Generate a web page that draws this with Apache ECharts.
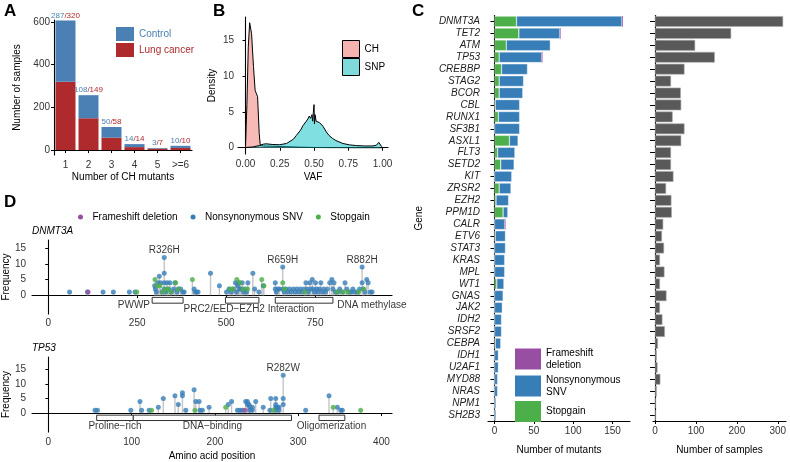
<!DOCTYPE html>
<html><head><meta charset="utf-8">
<script src="https://cdn.jsdelivr.net/npm/echarts@6/dist/echarts.min.js"></script>
<style>html,body{margin:0;padding:0;background:#fff}#c{width:790px;height:462px}</style>
</head><body><div id="c"></div>
<script>
// ---------------- Panel A data ----------------
const chMutantCats = ['1','2','3','4','5','>=6'];
const controlSamples = [287,108,50,14,3,10];
const lungSamples = [320,149,58,14,7,10];
const aYTicks = [0,200,400,600];

// ---------------- Panel B data ----------------
const vafCH = [[0,0.3],[0.01,6],[0.02,14],[0.03,17.4],[0.044,15.9],[0.058,11.3],[0.07,8.0],[0.08,7.5],[0.088,7.1],[0.095,4],[0.1,2],[0.107,0.4],[0.13,0.25],[0.2,0.2],[0.3,0.15],[0.4,0.08],[0.5,0.04],[0.6,0.02],[0.8,0.01],[1,0.005]];
const vafSNP = [[0,0.05],[0.05,0.1],[0.1,0.3],[0.13,0.5],[0.15,0.55],[0.2,0.45],[0.25,0.42],[0.3,0.6],[0.35,1.2],[0.37,1.7],[0.4,2.4],[0.42,3.1],[0.44,3.6],[0.455,4.0],[0.465,4.4],[0.475,4.1],[0.485,4.6],[0.49,3.7],[0.495,4.9],[0.5,6.0],[0.503,3.3],[0.508,4.6],[0.515,3.7],[0.525,3.9],[0.54,3.5],[0.55,3.3],[0.565,3.0],[0.59,2.2],[0.61,1.7],[0.635,1.3],[0.66,1.0],[0.71,0.6],[0.76,0.4],[0.81,0.3],[0.87,0.25],[0.93,0.25],[0.955,0.35],[0.973,0.75],[0.985,0.5],[0.992,0.2],[1.0,0.05]];
const bXTicks = [0,0.25,0.5,0.75,1];
const bYTicks = [0,5,10,15];

// ---------------- Panel C data ----------------
const genes = ['DNMT3A','TET2','ATM','TP53','CREBBP','STAG2','BCOR','CBL','RUNX1','SF3B1','ASXL1','FLT3','SETD2','KIT','ZRSR2','EZH2','PPM1D','CALR','ETV6','STAT3','KRAS','MPL','WT1','GNAS','JAK2','IDH2','SRSF2','CEBPA','IDH1','U2AF1','MYD88','NRAS','NPM1','SH2B3'];
const stopgainMut   = [28,31,15,6,9,6,6,1,5,0,19,4,8,0,6,2,11,0,1,0,0,0,3,0,0,0,0,1,0,0,0,0,0,0];
const nonsynMut     = [134,52,56,54,33,31,30,31,27,32,11,22,17,22,15,16,6,13,13,14,13,13,9,11,10,9,9,7,5,5,4,4,2,2];
const frameshiftMut = [1,1,0,1,0,0,0,0,0,0,0,0,0,0,0,0,0,1,0,0,0,0,0,0,0,0,0,0,0,0,0,0,0,0];
const samplesPerGene = [313,186,98,146,72,39,63,64,43,72,64,39,39,45,27,40,41,20,17,22,12,23,12,28,12,18,24,7,4,6,13,4,1,1];
const mutTicks = [0,50,100,150];
const sampleTicks = [0,100,200,300];

// ---------------- Panel D data ----------------
const dnmt3aSNV = [[60,1],[110,1],[154,1],[183,1],[228,1],[244,1],
 [299,3],[301,2],[304,1],[308,4],[312,6],[316,4],[320,1],[326,12],[326,7],[326,4],[326,2],[330,1],[334,4],[338,2],[342,4],[346,1],[352,2],[356,4],[362,1],[366,2],[372,2],[378,1],[382,1],
 [410,2],[413,1],[417,1],[421,1],[456,7],[481,3],
 [501,1],[508,2],[514,1],[520,2],[526,4],[529,1],[532,3],[535,4],[538,2],[542,2],[545,4],[549,1],[553,2],[557,1],[561,4],[575,7],[580,2],[592,1],[604,3],
 [638,4],[638,2],[641,1],[645,2],[650,2],[659,9],[659,2],[663,1],[668,2],[673,1],[678,2],[683,1],[689,2],[694,1],[699,2],[704,1],[709,2],[714,1],[719,2],[724,4],[728,2],[731,1],[735,4],[738,2],[742,5],[745,2],[748,1],[751,4],[755,2],[758,1],[762,2],[766,4],[770,1],[774,2],[779,1],[784,2],[791,4],[797,5],[800,2],[803,4],[807,1],[813,1],[819,2],[826,1],[834,4],[839,2],[846,1],[851,1],[856,2],[862,1],[868,1],[875,2],[882,9],[882,4],[885,2],[890,1],[895,5],[899,4],[905,1],[910,1]];
const dnmt3aStop = [[249,1],[300,5],[306,3],[314,3],[322,1],[331,2],[336,2],[345,1],[358,4],[366,2],[405,5],[511,2],[518,2],[530,5],[539,4],[547,2],[560,2],[600,5],[606,3],[659,4],[664,2],[721,1],[812,1],[828,1],[842,1],[872,1],[886,2]];
const dnmt3aFS = [[112,1]];
const dnmt3aHot = [['R326H',326,12],['R659H',659,9],['R882H',882,9]];
const dnmt3aDomains = [['PWWP',292,379],['PRC2/EED\u2212EZH2 Interaction',498,592],['DNA methylase',638,800]];

const tp53SNV = [[56,1],[59,1],[99,1],[110,4],[112,1],[121,1],[132,2],[138,5],[152,6],[156,3],[161,7],[161,6],[165,1],[175,8],[177,4],[181,4],[182,1],[185,1],[193,2],[216,3],[220,4],[227,1],[230,1],[233,1],[237,4],[239,4],[239,3],[241,3],[242,2],[242,1],[245,2],[245,1],[249,4],[258,2],[266,1],[267,5],[273,5],[273,3],[273,2],[273,1],[275,2],[277,2],[277,1],[282,13],[282,5],[282,3],[309,1],[337,6],[347,2],[351,1],[353,1]];
const tp53Stop = [[124,1],[176,1],[213,2],[270,1],[342,2],[375,1]];
const tp53FS = [[236,1]];
const tp53Hot = [['R282W',282,13]];
const tp53Domains = [['Proline\u2212rich',58,102],['DNA\u2212binding',102,292],['Oligomerization',325,356]];
const dnmt3aXTicks = [0,250,500,750];
const tp53XTicks = [0,100,200,300,400];
const freqTicks = [0,5,10,15];

// ---------------- styles ----------------
const FONT = 'Liberation Sans, Arial, Helvetica, sans-serif';
const cBlueA = '#4A80B4', cRedA = '#AE2A2D';
const cFS = '#984EA3', cSNV = '#377EB8', cStop = '#4DAF4A';
const axLine = {show:true, lineStyle:{color:'#000', width:1.1}};
const tick = (len, vals) => ({show:true, length:len, lineStyle:{color:'#000', width:1}, customValues: vals});
const lbl = (vals, margin, fmt) => ({show:true, color:'#333', fontSize:10, margin:margin, customValues: vals, formatter: fmt});
const nameStyle = {color:'#000', fontSize:10};
function gridBox(l,t,w,h){return {left:l, top:t, width:w, height:h, containLabel:false, outerBoundsMode:'none'};}

function stems(...lists){
  const m = {};
  lists.forEach(L => L.forEach(([p,f]) => { m[p] = Math.max(m[p]||0, f); }));
  return Object.keys(m).map(Number).sort((a,b)=>a-b).map(p=>[p,m[p]]);
}
const boxTop = -0.7, boxBot = -2.55;

function lolliSeries(ix, snv, stop, fs, hot, domains, labelAnchors){
  return [
    {type:'bar', xAxisIndex:ix, yAxisIndex:ix, data: stems(snv, stop, fs), barWidth:1.4, itemStyle:{color:'#C4C4C4'}, z:1, silent:true},
    {type:'custom', xAxisIndex:ix, yAxisIndex:ix, z:2, silent:true,
      data: domains.map(d => [d[1], d[2], boxTop, boxBot]),
      encode:{x:[0,1], y:[2,3]},
      renderItem:(params, api) => {
        const p1 = api.coord([api.value(0), api.value(2)]);
        const p2 = api.coord([api.value(1), api.value(3)]);
        return {type:'rect', shape:{x:p1[0], y:p1[1], width:p2[0]-p1[0], height:p2[1]-p1[1]}, style:{fill:'#fff', stroke:'#333', lineWidth:1}};
      }},
    {type:'scatter', name:'Nonsynonymous SNV', xAxisIndex:ix, yAxisIndex:ix, data:snv, symbolSize:5, itemStyle:{color:cSNV}, z:3},
    {type:'scatter', name:'Stopgain', xAxisIndex:ix, yAxisIndex:ix, data:stop, symbolSize:5, itemStyle:{color:cStop}, z:4},
    {type:'scatter', name:'Frameshift deletion', xAxisIndex:ix, yAxisIndex:ix, data:fs, symbolSize:5, itemStyle:{color:cFS}, z:5},
    {type:'scatter', xAxisIndex:ix, yAxisIndex:ix, symbolSize:0, silent:true, z:6,
      data: hot.map(h => ({name:h[0], value:[h[1], h[2]]})),
      label:{show:true, position:'top', distance:2, formatter:'{b}', color:'#000', fontSize:10}},
    {type:'scatter', xAxisIndex:ix, yAxisIndex:ix, symbolSize:0, silent:true, z:6,
      data: domains.map((d,i) => ({name:d[0], value:[labelAnchors[i][0], labelAnchors[i][1]], label:{align:labelAnchors[i][2]}})),
      label:{show:true, position:'inside', formatter:'{b}', color:'#000', fontSize:10, verticalAlign:'middle'}}
  ];
}

const chart = echarts.init(document.getElementById('c'), null, {renderer:'canvas'});
const option = {
  animation:false,
  backgroundColor:'#fff',
  textStyle:{fontFamily:FONT},
  grid:[gridBox(54,20,138,135), gridBox(238,17,150,137), gridBox(488,15.5,142,405.5), gridBox(653,15.5,133,405.5), gridBox(32,240,360,74), gridBox(32,357,360,75)],
  xAxis:[
    {gridIndex:0, type:'category', data:chMutantCats, boundaryGap:true, axisLine:axLine,
      axisTick:{show:true, length:3, alignWithLabel:true, lineStyle:{color:'#000'}},
      axisLabel:{show:true, interval:0, color:'#333', fontSize:10, margin:5},
      name:'Number of CH mutants', nameLocation:'middle', nameGap:17, nameTextStyle:nameStyle},
    {gridIndex:1, type:'value', min:-0.055, max:1.04, axisLine:axLine, axisTick:tick(3,bXTicks), axisLabel:lbl(bXTicks,5, v=>v.toFixed(2)), splitLine:{show:false},
      name:'VAF', nameLocation:'middle', nameGap:18, nameTextStyle:nameStyle},
    {gridIndex:2, type:'value', min:-8.2, max:172.2, axisLine:axLine, axisTick:tick(3,mutTicks), axisLabel:lbl(mutTicks,5), splitLine:{show:false},
      name:'Number of mutants', nameLocation:'middle', nameGap:24, nameTextStyle:nameStyle},
    {gridIndex:3, type:'value', min:-5, max:320, axisLine:axLine, axisTick:tick(3,sampleTicks), axisLabel:lbl(sampleTicks,5), splitLine:{show:false},
      name:'Number of samples', nameLocation:'middle', nameGap:24, nameTextStyle:nameStyle},
    {gridIndex:4, type:'value', min:-45.6, max:966, axisLine:axLine, axisTick:tick(3,dnmt3aXTicks), axisLabel:lbl(dnmt3aXTicks,4), splitLine:{show:false}},
    {gridIndex:5, type:'value', min:-19.65, max:412.65, axisLine:axLine, axisTick:tick(3,tp53XTicks), axisLabel:lbl(tp53XTicks,5), splitLine:{show:false},
      name:'Amino acid position', nameLocation:'middle', nameGap:19, nameTextStyle:nameStyle}
  ],
  yAxis:[
    {gridIndex:0, type:'value', min:-23, max:609, axisLine:axLine, axisTick:tick(3,aYTicks), axisLabel:lbl(aYTicks,4), splitLine:{show:false},
      name:'Number of samples', nameLocation:'middle', nameGap:32, nameTextStyle:nameStyle},
    {gridIndex:1, type:'value', min:-0.87, max:18.2, axisLine:axLine, axisTick:tick(3,bYTicks), axisLabel:lbl(bYTicks,4), splitLine:{show:false},
      name:'Density', nameLocation:'middle', nameGap:21, nameTextStyle:nameStyle},
    {gridIndex:2, type:'category', data:genes, inverse:true, axisLine:axLine,
      axisTick:{show:true, length:4, alignWithLabel:true, interval:0, lineStyle:{color:'#000'}},
      axisLabel:{show:true, interval:0, fontStyle:'italic', fontSize:10, color:'#222', margin:8},
      name:'Gene', nameLocation:'middle', nameGap:64, nameTextStyle:nameStyle},
    {gridIndex:3, type:'category', data:genes, inverse:true, axisLine:axLine,
      axisTick:{show:true, length:5, alignWithLabel:true, interval:0, lineStyle:{color:'#000'}},
      axisLabel:{show:false}},
    {gridIndex:4, type:'value', min:-6, max:17.6, axisLine:axLine, axisTick:tick(3,freqTicks), axisLabel:lbl(freqTicks,6), splitLine:{show:false},
      name:'Frequency', nameLocation:'middle', nameGap:21, nameTextStyle:nameStyle},
    {gridIndex:5, type:'value', min:-6.5, max:19.3, axisLine:axLine, axisTick:tick(3,freqTicks), axisLabel:lbl(freqTicks,6), splitLine:{show:false},
      name:'Frequency', nameLocation:'middle', nameGap:21, nameTextStyle:nameStyle}
  ],
  legend:[
    {data:[{name:'Control', textStyle:{color:cBlueA}}, {name:'Lung cancer', textStyle:{color:cRedA}}],
      left:111, top:22, orient:'vertical', icon:'rect', itemWidth:18, itemHeight:14, itemGap:2, symbolKeepAspect:false,
      textStyle:{fontSize:10}, selectedMode:false},
    {data:[{name:'CH', itemStyle:{color:'#F6B4B0', borderColor:'#000', borderWidth:1}}, {name:'SNP', itemStyle:{color:'#80DADC', borderColor:'#000', borderWidth:1}}],
      left:337, top:35, orient:'vertical', icon:'rect', itemWidth:17, itemHeight:17, itemGap:0, symbolKeepAspect:false,
      textStyle:{fontSize:10, color:'#000'}, selectedMode:false},
    {data:['Frameshift deletion','Nonsynonymous SNV','Stopgain'],
      left:510, top:342, orient:'vertical', icon:'rect', itemWidth:26, itemHeight:21, itemGap:3, symbolKeepAspect:true,
      itemStyle:{borderWidth:0},
      formatter: n => n.replace(' ', '\n'), textStyle:{fontSize:10, color:'#000', lineHeight:12}, selectedMode:false},
    {data:['Frameshift deletion','Nonsynonymous SNV','Stopgain'],
      left:73, top:207, orient:'horizontal', icon:'circle', itemWidth:14, itemHeight:5, itemGap:13, symbolKeepAspect:true,
      itemStyle:{borderWidth:0},
      textStyle:{fontSize:10, color:'#000'}, selectedMode:false}
  ],
  graphic:[
    {type:'text', left:4, top:3, style:{text:'A', font:'bold 17px '+FONT, fill:'#000'}},
    {type:'text', left:213, top:3, style:{text:'B', font:'bold 17px '+FONT, fill:'#000'}},
    {type:'text', left:412, top:3, style:{text:'C', font:'bold 17px '+FONT, fill:'#000'}},
    {type:'text', left:4, top:194, style:{text:'D', font:'bold 17px '+FONT, fill:'#000'}},
    {type:'text', left:32, top:226, style:{text:'DNMT3A', font:'italic 10px '+FONT, fill:'#000'}},
    {type:'text', left:32, top:343, style:{text:'TP53', font:'italic 10px '+FONT, fill:'#000'}}
  ],
  series:[
    {type:'bar', name:'Lung cancer', xAxisIndex:0, yAxisIndex:0, stack:'a', barWidth:20,
      data: lungSamples, itemStyle:{color:cRedA}},
    {type:'bar', name:'Control', xAxisIndex:0, yAxisIndex:0, stack:'a', barWidth:20,
      data: controlSamples, itemStyle:{color:cBlueA},
      label:{show:true, position:'top', distance:1,
        formatter: p => '{c|'+controlSamples[p.dataIndex]+'}{l|/'+lungSamples[p.dataIndex]+'}',
        rich:{c:{color:cBlueA, fontSize:8}, l:{color:cRedA, fontSize:8}}}},
    {type:'line', name:'CH', xAxisIndex:1, yAxisIndex:1, data:vafCH, showSymbol:false, smooth:false,
      lineStyle:{color:'#000', width:1}, itemStyle:{color:'#F6B4B0'}, areaStyle:{color:'rgba(241,118,109,0.5)', opacity:1}, z:2},
    {type:'line', name:'SNP', xAxisIndex:1, yAxisIndex:1, data:vafSNP, showSymbol:false, smooth:false,
      lineStyle:{color:'#000', width:1}, itemStyle:{color:'#80DADC'}, areaStyle:{color:'rgba(0,191,196,0.5)', opacity:1}, z:3},
    {type:'bar', name:'Stopgain', xAxisIndex:2, yAxisIndex:2, stack:'c', barCategoryGap:'10%', data:stopgainMut,
      itemStyle:{color:cStop, borderColor:'rgba(255,255,255,0.7)', borderWidth:0.5}},
    {type:'bar', name:'Nonsynonymous SNV', xAxisIndex:2, yAxisIndex:2, stack:'c', barCategoryGap:'10%', data:nonsynMut,
      itemStyle:{color:cSNV, borderColor:'rgba(255,255,255,0.7)', borderWidth:0.5}},
    {type:'bar', name:'Frameshift deletion', xAxisIndex:2, yAxisIndex:2, stack:'c', barCategoryGap:'10%', data:frameshiftMut,
      itemStyle:{color:cFS}},
    {type:'bar', name:'Samples', xAxisIndex:3, yAxisIndex:3, barCategoryGap:'10%', data:samplesPerGene,
      itemStyle:{color:'#595959', borderColor:'#aaa', borderWidth:0.6}},
    ...lolliSeries(4, dnmt3aSNV, dnmt3aStop, dnmt3aFS, dnmt3aHot, dnmt3aDomains, [[286,-3.2,'right'],[564,-4.5,'center'],[812,-3.1,'left']]),
    ...lolliSeries(5, tp53SNV, tp53Stop, tp53FS, tp53Hot, tp53Domains, [[80,-4.45,'center'],[197,-4.45,'center'],[340,-4.45,'center']])
  ]
};
chart.setOption(option);
</script>
</body></html>
